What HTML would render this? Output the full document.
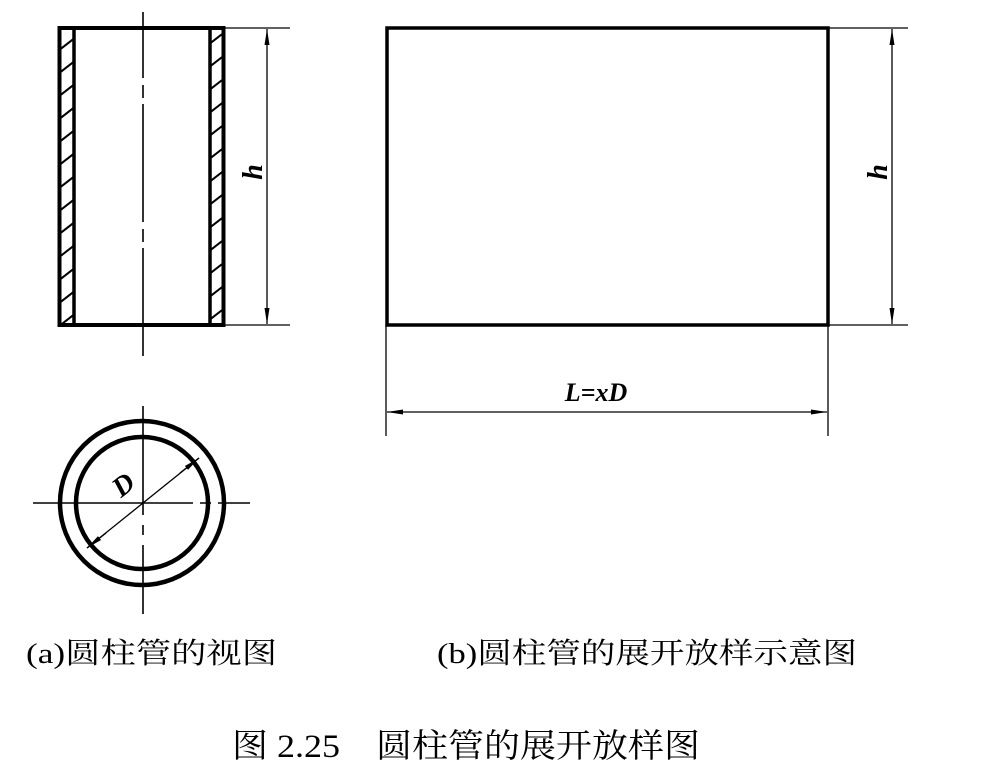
<!DOCTYPE html>
<html><head><meta charset="utf-8"><style>
html,body{margin:0;padding:0;background:#fff;}
svg{display:block;}
</style></head><body>
<svg width="983" height="773" viewBox="0 0 983 773" xmlns="http://www.w3.org/2000/svg">
<defs>
<marker id="ar" viewBox="0 0 16 6" refX="16" refY="3" markerWidth="16" markerHeight="6" orient="auto" markerUnits="userSpaceOnUse">
<path d="M0,0.5 L16,3 L0,5.5 Z" fill="#000"/>
</marker>
<marker id="al" viewBox="0 0 16 6" refX="0" refY="3" markerWidth="16" markerHeight="6" orient="auto" markerUnits="userSpaceOnUse">
<path d="M16,0.5 L0,3 L16,5.5 Z" fill="#000"/>
</marker>
<clipPath id="cl"><rect x="60" y="28" width="14" height="297"/></clipPath>
<clipPath id="cr"><rect x="210" y="28" width="13" height="297"/></clipPath>
</defs>
<g stroke="#000" fill="none">
<g clip-path="url(#cl)" stroke-width="2">
<path d="M58,51 L76,37 M58,74 L76,60 M58,97 L76,83 M58,120 L76,106 M58,143 L76,129 M58,166 L76,152 M58,189 L76,175 M58,212 L76,198 M58,235 L76,221 M58,258 L76,244 M58,281 L76,267 M58,304 L76,290 M58,327 L76,313"/>
</g>
<g clip-path="url(#cr)" stroke-width="2">
<path d="M208,45 L226,31 M208,68 L226,54 M208,91 L226,77 M208,114 L226,100 M208,137 L226,123 M208,160 L226,146 M208,183 L226,169 M208,206 L226,192 M208,229 L226,215 M208,252 L226,238 M208,275 L226,261 M208,298 L226,284 M208,321 L226,307 M208,344 L226,330"/>
</g>
<rect x="59.5" y="28" width="164" height="297" stroke-width="4"/>
<line x1="74" y1="28" x2="74" y2="325" stroke-width="3.5"/>
<line x1="210" y1="28" x2="210" y2="325" stroke-width="3.5"/>
<path d="M143,12 V78 M143,85 V98 M143,104 V222 M143,229 V242 M143,248 V356" stroke-width="1.6"/>
<line x1="224" y1="28" x2="290" y2="28" stroke-width="1.3"/>
<line x1="224" y1="325" x2="290" y2="325" stroke-width="1.3"/>
<line x1="267" y1="29" x2="267" y2="324" stroke-width="1.3" marker-start="url(#al)" marker-end="url(#ar)"/>
<circle cx="142" cy="503" r="82" stroke-width="4.5"/>
<circle cx="142" cy="503" r="66" stroke-width="4.5"/>
<path d="M33,503 H193 M200,503 H211 M218,503 H250" stroke-width="1.6"/>
<path d="M143,406 V515 M143,525 V535 M143,545 V614" stroke-width="1.6"/>
<line x1="199" y1="458" x2="87" y2="548" stroke-width="1.3"/>
<line x1="180" y1="473" x2="199" y2="458" stroke-width="1.3" marker-end="url(#ar)"/>
<line x1="106" y1="533" x2="87" y2="548" stroke-width="1.3" marker-end="url(#ar)"/>
<rect x="387" y="28" width="441" height="297" stroke-width="3.5"/>
<line x1="828" y1="28" x2="908" y2="28" stroke-width="1.3"/>
<line x1="828" y1="325" x2="908" y2="325" stroke-width="1.3"/>
<line x1="892" y1="29" x2="892" y2="324" stroke-width="1.3" marker-start="url(#al)" marker-end="url(#ar)"/>
<line x1="386" y1="325" x2="386" y2="436" stroke-width="1.3"/>
<line x1="828" y1="325" x2="828" y2="436" stroke-width="1.3"/>
<line x1="387" y1="412" x2="827" y2="412" stroke-width="1.3" marker-start="url(#al)" marker-end="url(#ar)"/>
</g>
<g font-family="Liberation Serif, serif" font-style="italic" font-weight="bold" fill="#000">
<text x="0" y="0" font-size="28" transform="translate(262,172) rotate(-90)" text-anchor="middle">h</text>
<text x="0" y="0" font-size="28" transform="translate(887,172) rotate(-90)" text-anchor="middle">h</text>
<text x="0" y="0" font-size="28" transform="translate(129,492) rotate(-38)" text-anchor="middle">D</text>
<text x="596" y="401" font-size="26" text-anchor="middle">L=xD</text>
</g>
<g font-family="Liberation Serif, 'Noto Serif CJK SC', serif" fill="#000">
<text x="26" y="663" font-size="29" textLength="251" lengthAdjust="spacingAndGlyphs">(a)圆柱管的视图</text>
<text x="437" y="663" font-size="29" textLength="420" lengthAdjust="spacingAndGlyphs">(b)圆柱管的展开放样示意图</text>
<text x="232" y="757" font-size="33" textLength="468" lengthAdjust="spacingAndGlyphs">图 2.25　圆柱管的展开放样图</text>
</g>
</svg>
</body></html>
